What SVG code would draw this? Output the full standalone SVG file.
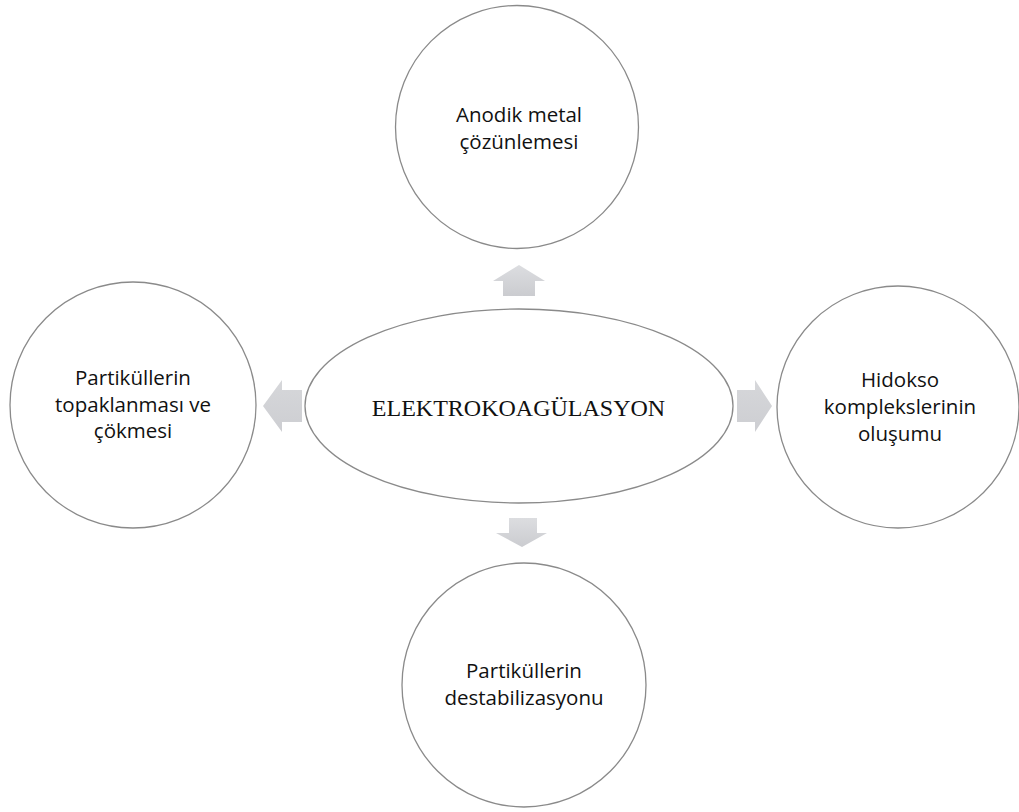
<svg xmlns="http://www.w3.org/2000/svg" width="1019" height="812" viewBox="0 0 1019 812">
<defs>
<linearGradient id="gv" x1="0" y1="0" x2="0" y2="1"><stop offset="0" stop-color="#dcdde0"/><stop offset="1" stop-color="#cbccd0"/></linearGradient>
<linearGradient id="gh" x1="0" y1="0" x2="0" y2="1"><stop offset="0" stop-color="#d6d7da"/><stop offset="1" stop-color="#cdced2"/></linearGradient>
</defs>
<style>
.node{fill:#fff;stroke:#8a8a8a;stroke-width:1.3}
.lbl{font-family:"Open Sans","Noto Sans",sans-serif;font-size:20.5px;fill:#111;text-anchor:middle}
.main{font-family:"Liberation Serif",serif;font-size:24px;fill:#111;text-anchor:middle}
.arr{stroke:none}
</style>
<rect width="1019" height="812" fill="#fff"/>
<g id="connectors">
<polygon class="arr" fill="url(#gv)" points="519,265 545,281 535,281 535,296 503,296 503,281 493,281"/>
<polygon class="arr" fill="url(#gv)" points="509,518 537,518 537,533 547,533 522,547 496,533 509,533"/>
<polygon class="arr" fill="url(#gh)" points="263,406 282,380 282,390 302,390 302,422 282,422 282,432"/>
<polygon class="arr" fill="url(#gh)" points="772,406 755,380 755,390 737,390 737,422 755,422 755,432"/>
</g>
<g id="center">
<ellipse class="node" cx="519" cy="406" rx="214" ry="97"/>
<text class="main" x="518.5" y="416">ELEKTROKOAGÜLASYON</text>
</g>
<g id="top">
<circle class="node" cx="517" cy="127" r="121.5"/>
<text class="lbl" x="519" y="122">Anodik metal</text>
<text class="lbl" x="519" y="149">çözünlemesi</text>
</g>
<g id="left">
<circle class="node" cx="133" cy="405" r="123"/>
<text class="lbl" x="133" y="385">Partiküllerin</text>
<text class="lbl" x="133" y="412">topaklanması ve</text>
<text class="lbl" x="133" y="438">çökmesi</text>
</g>
<g id="right">
<circle class="node" cx="898" cy="407" r="121"/>
<text class="lbl" x="900" y="387">Hidokso</text>
<text class="lbl" x="900" y="414">komplekslerinin</text>
<text class="lbl" x="900" y="441">oluşumu</text>
</g>
<g id="bottom">
<circle class="node" cx="524" cy="685" r="122"/>
<text class="lbl" x="524" y="678">Partiküllerin</text>
<text class="lbl" x="524" y="705">destabilizasyonu</text>
</g>
</svg>
